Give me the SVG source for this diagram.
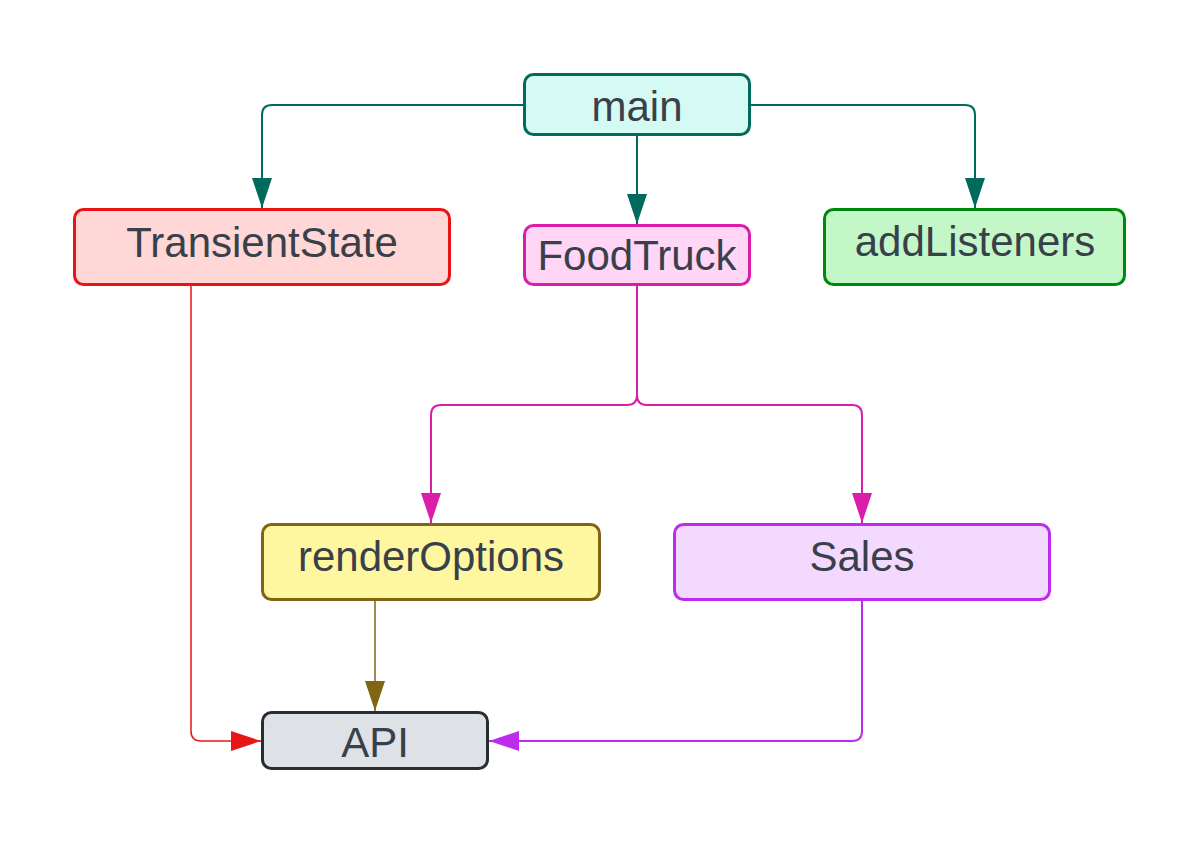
<svg xmlns="http://www.w3.org/2000/svg" width="1200" height="844" viewBox="0 0 1200 844">
<defs>
<style>
.n rect{stroke-width:3}
.n text{font-family:"Liberation Sans",Arial,sans-serif;font-size:42px;fill:#39404a;text-anchor:middle}
.c path{fill:none}
</style>
<marker id="aT" markerUnits="userSpaceOnUse" markerWidth="30" markerHeight="20" refX="30" refY="10" orient="auto"><path d="M0,0 L30,10 L0,20 Z" fill="#006b5c"/></marker>
<marker id="aM" markerUnits="userSpaceOnUse" markerWidth="30" markerHeight="20" refX="30" refY="10" orient="auto"><path d="M0,0 L30,10 L0,20 Z" fill="#da1ea9"/></marker>
<marker id="aR" markerUnits="userSpaceOnUse" markerWidth="30" markerHeight="20" refX="30" refY="10" orient="auto"><path d="M0,0 L30,10 L0,20 Z" fill="#e81416"/></marker>
<marker id="aO" markerUnits="userSpaceOnUse" markerWidth="30" markerHeight="20" refX="30" refY="10" orient="auto"><path d="M0,0 L30,10 L0,20 Z" fill="#7f6514"/></marker>
<marker id="aP" markerUnits="userSpaceOnUse" markerWidth="30" markerHeight="20" refX="30" refY="10" orient="auto"><path d="M0,0 L30,10 L0,20 Z" fill="#bd2ced"/></marker>
</defs>
<rect width="1200" height="844" fill="#ffffff"/>
<g id="connectors" class="c">
<path d="M524,105 H272 Q262,105 262,115 V208" stroke="#006b5c" stroke-width="2" marker-end="url(#aT)"/>
<path d="M637,136 V224" stroke="#006b5c" stroke-width="2" marker-end="url(#aT)"/>
<path d="M750,105 H965 Q975,105 975,115 V208" stroke="#006b5c" stroke-width="2" marker-end="url(#aT)"/>
<path d="M637,286 V395 Q637,405 627,405 H441 Q431,405 431,415 V523" stroke="#da1ea9" stroke-width="2" marker-end="url(#aM)"/>
<path d="M637,395 Q637,405 647,405 H852 Q862,405 862,415 V523" stroke="#da1ea9" stroke-width="2" marker-end="url(#aM)"/>
<path d="M191,286 V731 Q191,741 201,741 H261" stroke="#e81416" stroke-width="1.5" marker-end="url(#aR)"/>
<path d="M375,601 V711" stroke="#7f6514" stroke-width="1.5" marker-end="url(#aO)"/>
<path d="M862,601 V731 Q862,741 852,741 H489" stroke="#bd2ced" stroke-width="2" marker-end="url(#aP)"/>
</g>
<g id="main" class="n"><rect x="524.5" y="74.5" width="225" height="60" rx="9" fill="#d5f9f3" stroke="#006b5c"/><text x="637" y="121">main</text></g>
<g id="TransientState" class="n"><rect x="74.5" y="209.5" width="375" height="75" rx="9" fill="#ffd7d7" stroke="#e81416"/><text x="262" y="257">TransientState</text></g>
<g id="FoodTruck" class="n"><rect x="524.5" y="225.5" width="225" height="59" rx="9" fill="#ffd6f5" stroke="#da1ea9"/><text x="637" y="270">FoodTruck</text></g>
<g id="addListeners" class="n"><rect x="824.5" y="209.5" width="300" height="75" rx="9" fill="#c3f7c8" stroke="#00880d"/><text x="975" y="256">addListeners</text></g>
<g id="renderOptions" class="n"><rect x="262.5" y="524.5" width="337" height="75" rx="9" fill="#fff6a0" stroke="#7f6514"/><text x="431" y="571">renderOptions</text></g>
<g id="Sales" class="n"><rect x="674.5" y="524.5" width="375" height="75" rx="9" fill="#f3d9fe" stroke="#bd2ced"/><text x="862" y="571">Sales</text></g>
<g id="API" class="n"><rect x="262.5" y="712.5" width="225" height="56" rx="9" fill="#dee1e6" stroke="#282c33"/><text x="375" y="757">API</text></g>
</svg>
